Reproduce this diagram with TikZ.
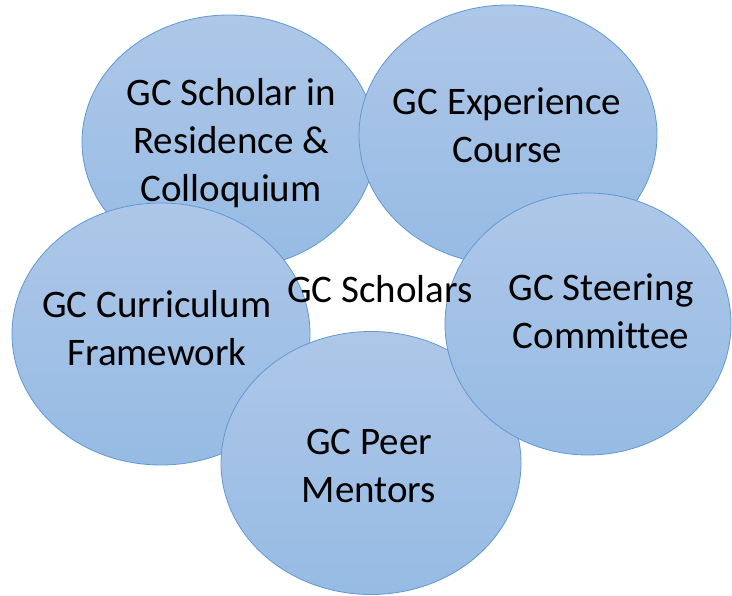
\documentclass[tikz,border=0pt]{standalone}
\usepackage{fontspec}
\setmainfont{Carlito}[Ligatures=NoCommon]
\usetikzlibrary{shapes.geometric}

\definecolor{bubbletop}{RGB}{174,199,232}
\definecolor{bubblemid}{RGB}{188,212,238}
\definecolor{bubblebot}{RGB}{150,187,228}
\definecolor{bubbleline}{RGB}{96,153,212}

\tikzset{
  bubble/.style = {shape=ellipse, draw=bubbleline, line width=0.8pt,
                   inner sep=0pt, top color=bubbletop,
                   middle color=bubblemid, bottom color=bubblebot},
  bubbletext/.style = {align=center, inner sep=0pt,
                       font=\fontsize{39}{48}\selectfont},
  hubtext/.style = {bubbletext}
}

\begin{document}
\begin{tikzpicture}[x=1pt, y=-1pt]
\useasboundingbox (0,0) rectangle (732,596);

% outer bubbles, back to front
\node[bubble, minimum width=294pt, minimum height=254pt] (scholar) at (229,142) {};
\node[bubble, minimum width=298pt, minimum height=260pt] (experience) at (508,135) {};
\node[bubble, minimum width=298pt, minimum height=262pt] (curriculum) at (161,334) {};
\node[bubble, minimum width=300pt, minimum height=263pt] (peer) at (371,463) {};
\node[bubble, minimum width=286pt, minimum height=262pt] (steering) at (588,324) {};

% labels
\node[bubbletext] (scholar-txt) at (231,143) {GC Scholar in\\Residence \&\\Colloquium};
\node[bubbletext] (experience-txt) at (507,125) {GC Experience\\Course};
\node[bubbletext] (curriculum-txt) at (157,328) {GC Curriculum\\Framework};
\node[bubbletext] (peer-txt) at (369,466) {GC Peer\\Mentors};
\node[bubbletext] (steering-txt) at (601,311) {GC Steering\\Committee};

\node[hubtext] (hub) at (380,289) {GC Scholars};
\end{tikzpicture}
\end{document}
